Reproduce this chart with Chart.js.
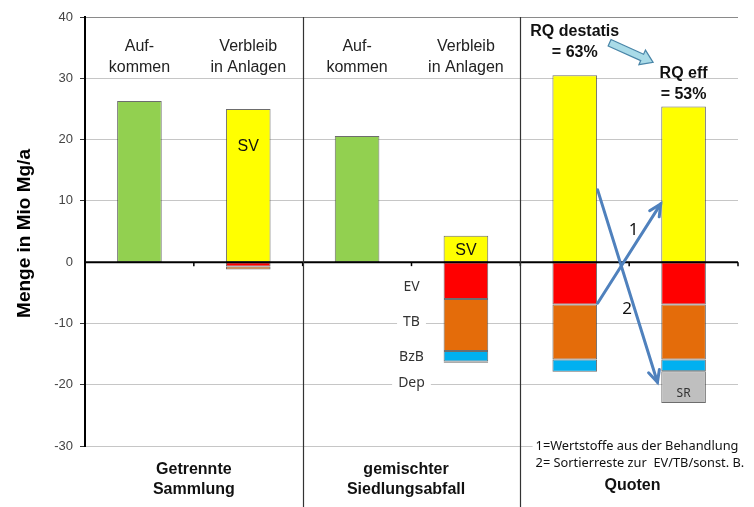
<!DOCTYPE html>
<html>
<head>
<meta charset="utf-8">
<script src="https://cdn.jsdelivr.net/npm/chart.js@4.4.1/dist/chart.umd.min.js"></script>
<style>
  html, body { margin: 0; padding: 0; background: #fff; }
  #wrap { width: 754px; height: 507px; }
</style>
</head>
<body>
<div id="wrap"><canvas id="chart"></canvas></div>
<script>
// six bar slots: two per group
const categories = ['GS Aufkommen', 'GS Verbleib', 'SA Aufkommen', 'SA Verbleib', 'RQ destatis', 'RQ eff'];

// Mio Mg/a
const aufkommen = [26.3, null, 20.6, null, null, null];
const svValues  = [null, 25.0, null, 4.3, 30.5, 25.4];
const evValues  = [null, -0.7, null, -6.0, -6.9, -6.9];
const tbValues  = [null, -0.5, null, -8.5, -9.0, -9.0];
const bzbValues = [null, null, null, -1.7, -2.0, -1.9];
const depValues = [null, null, null, -0.2, null, null];
const srValues  = [null, null, null, null, null, -5.2];

const yMin = -30, yMax = 40, yStep = 10;

const topLabels = [
  { idx: 0, lines: ['Auf-', 'kommen'] },
  { idx: 1, lines: ['Verbleib', 'in Anlagen'] },
  { idx: 2, lines: ['Auf-', 'kommen'] },
  { idx: 3, lines: ['Verbleib', 'in Anlagen'] }
];
const groupLabels = [
  { idx: 0.5, lines: ['Getrennte', 'Sammlung'] },
  { idx: 2.45, lines: ['gemischter', 'Siedlungsabfall'] },
  { idx: 4.53, lines: ['Quoten'] }
];
const segLabels = [
  { text: 'SV', idx: 1, v: 18.8, big: true },
  { text: 'SV', idx: 3, v: 1.9, big: true },
  { text: 'EV', idx: 2.5, v: -4.1 },
  { text: 'TB', idx: 2.5, v: -9.8 },
  { text: 'BzB', idx: 2.5, v: -15.4 },
  { text: 'Dep', idx: 2.5, v: -19.8 },
  { text: 'SR', idx: 5, v: -21.4, small: true }
];
const quoteLabels = [
  { lines: ['RQ destatis', '= 63%'], idx: 4.0, v: 37.6 },
  { lines: ['RQ eff', '= 53%'], idx: 5.0, v: 30.7 }
];
// flow arrows in (category index, value)
const flowArrows = [
  { from: [4.21, -6.7], to: [4.79, 9.5], label: '1', at: [4.54, 5.2] },
  { from: [4.21, 11.8], to: [4.76, -19.6], label: '2', at: [4.48, -7.6] }
];
const rqArrow = { from: [4.32, 35.8], to: [4.72, 32.6] };
const footnotes = ['1=Wertstoffe aus der Behandlung', '2= Sortierreste zur  EV/TB/sonst. B.'];

const ARIAL = '"Liberation Sans", Arial, sans-serif';
const CAL = '"Noto Sans", "Open Sans", sans-serif';

function px(chart, i) {
  const x = chart.scales.x;
  const p0 = x.getPixelForValue(0), p1 = x.getPixelForValue(1);
  return p0 + i * (p1 - p0);
}
function py(chart, v) { return chart.scales.y.getPixelForValue(v); }

function arrowHead(ctx, x1, y1, x2, y2, len) {
  const a = Math.atan2(y2 - y1, x2 - x1);
  ctx.beginPath();
  ctx.moveTo(x2 - len * Math.cos(a - 0.45), y2 - len * Math.sin(a - 0.45));
  ctx.lineTo(x2, y2);
  ctx.lineTo(x2 - len * Math.cos(a + 0.45), y2 - len * Math.sin(a + 0.45));
  ctx.stroke();
}

const decorPlugin = {
  id: 'decor',
  afterDatasetsDraw(chart) {
    const ctx = chart.ctx;
    const area = chart.chartArea;
    ctx.save();

    // zero line + small ticks at slot borders
    const y0 = py(chart, 0);
    ctx.strokeStyle = '#000';
    ctx.lineWidth = 2;
    ctx.beginPath(); ctx.moveTo(area.left, y0); ctx.lineTo(area.right, y0); ctx.stroke();
    ctx.lineWidth = 1.5;
    for (let i = 1; i <= categories.length; i++) {
      const x = px(chart, i - 0.5);
      ctx.beginPath(); ctx.moveTo(x, y0); ctx.lineTo(x, y0 + 4); ctx.stroke();
    }

    // group separators
    ctx.strokeStyle = '#333';
    ctx.lineWidth = 1.2;
    [1.5, 3.5].forEach(i => {
      const x = Math.round(px(chart, i)) + 0.5;
      ctx.beginPath(); ctx.moveTo(x, area.top); ctx.lineTo(x, chart.height); ctx.stroke();
    });

    ctx.textAlign = 'center';
    ctx.textBaseline = 'middle';

    // headings above bars
    ctx.fillStyle = '#222';
    ctx.font = '16px ' + ARIAL;
    topLabels.forEach(l => {
      const x = px(chart, l.idx);
      l.lines.forEach((t, k) => ctx.fillText(t, x, py(chart, 35.2) + k * 21));
    });

    // segment labels
    segLabels.forEach(l => {
      const x = px(chart, l.idx), y = py(chart, l.v);
      if (l.big) {
        ctx.font = '16px ' + ARIAL;
        ctx.fillStyle = '#111';
      } else {
        ctx.font = (l.small ? '12px ' : '14px ') + CAL;
        const w = ctx.measureText(l.text).width;
        if (!l.small) {
          ctx.fillStyle = '#fff';
          ctx.fillRect(x - w / 2 - 6, y - 8, w + 12, 16);
        }
        ctx.fillStyle = '#333';
      }
      ctx.fillText(l.text, x, y);
    });

    // RQ labels
    ctx.font = 'bold 16px ' + ARIAL;
    ctx.fillStyle = '#111';
    quoteLabels.forEach(l => {
      const x = px(chart, l.idx);
      l.lines.forEach((t, k) => ctx.fillText(t, x, py(chart, l.v) + k * 21));
    });

    // light blue block arrow
    {
      const ax = px(chart, rqArrow.from[0]), ay = py(chart, rqArrow.from[1]);
      const bx = px(chart, rqArrow.to[0]), by = py(chart, rqArrow.to[1]);
      const len = Math.hypot(bx - ax, by - ay);
      const ux = (bx - ax) / len, uy = (by - ay) / len;
      const nx = -uy, ny = ux;
      const hw = 3.5, hh = 8, hl = 12;
      const hx = bx - ux * hl, hy = by - uy * hl;
      ctx.beginPath();
      ctx.moveTo(ax + nx * hw, ay + ny * hw);
      ctx.lineTo(hx + nx * hw, hy + ny * hw);
      ctx.lineTo(hx + nx * hh, hy + ny * hh);
      ctx.lineTo(bx, by);
      ctx.lineTo(hx - nx * hh, hy - ny * hh);
      ctx.lineTo(hx - nx * hw, hy - ny * hw);
      ctx.lineTo(ax - nx * hw, ay - ny * hw);
      ctx.closePath();
      ctx.fillStyle = '#a9dbe8';
      ctx.fill();
      ctx.strokeStyle = '#4a86a8';
      ctx.lineWidth = 1.2;
      ctx.stroke();
    }

    // flow arrows 1 and 2
    ctx.strokeStyle = '#4f81bd';
    ctx.lineWidth = 3;
    ctx.lineCap = 'round';
    flowArrows.forEach(a => {
      const x1 = px(chart, a.from[0]), y1 = py(chart, a.from[1]);
      const x2 = px(chart, a.to[0]), y2 = py(chart, a.to[1]);
      ctx.beginPath(); ctx.moveTo(x1, y1); ctx.lineTo(x2, y2); ctx.stroke();
      arrowHead(ctx, x1, y1, x2, y2, 13);
    });
    ctx.font = '17px ' + CAL;
    ctx.fillStyle = '#111';
    flowArrows.forEach(a => ctx.fillText(a.label, px(chart, a.at[0]), py(chart, a.at[1])));

    // footnotes
    ctx.font = '12.8px ' + CAL;
    ctx.textAlign = 'left';
    const fx = px(chart, 3.64);
    footnotes.forEach((t, k) => {
      const y = area.bottom + k * 17;
      const w = ctx.measureText(t).width;
      ctx.fillStyle = '#fff';
      ctx.fillRect(fx - 3, y - 8, w + 6, 16);
      ctx.fillStyle = '#111';
      ctx.fillText(t, fx, y);
    });

    // group names below
    ctx.textAlign = 'center';
    ctx.font = 'bold 16px ' + ARIAL;
    ctx.fillStyle = '#111';
    groupLabels.forEach(g => {
      const x = px(chart, g.idx);
      const base = g.lines.length === 1 ? area.bottom + 40 : area.bottom + 24;
      g.lines.forEach((t, k) => ctx.fillText(t, x, base + k * 20));
    });

    // y axis title
    ctx.save();
    ctx.translate(25, (area.top + area.bottom) / 2 + 2);
    ctx.rotate(-Math.PI / 2);
    ctx.font = 'bold 19px ' + ARIAL;
    ctx.fillStyle = '#000';
    ctx.fillText('Menge in Mio Mg/a', 0, 0);
    ctx.restore();

    ctx.restore();
  }
};

const barBorder = 'rgba(60,60,60,0.75)';
function ds(label, data, color) {
  return {
    label, data,
    backgroundColor: color,
    borderColor: barBorder,
    borderWidth: 1,
    borderSkipped: false,
    stack: 's',
    barPercentage: 0.41,
    categoryPercentage: 1.0
  };
}

new Chart(document.getElementById('chart'), {
  type: 'bar',
  data: {
    labels: categories,
    datasets: [
      ds('Aufkommen', aufkommen, '#92d050'),
      ds('SV', svValues, '#ffff00'),
      ds('EV', evValues, '#ff0000'),
      ds('TB', tbValues, '#e46c0a'),
      ds('BzB', bzbValues, '#00b0f0'),
      ds('Dep', depValues, '#111111'),
      ds('SR', srValues, '#bfbfbf')
    ]
  },
  options: {
    responsive: true,
    maintainAspectRatio: false,
    animation: false,
    layout: { padding: { top: 17, right: 16, bottom: 61, left: 0 } },
    plugins: { legend: { display: false }, tooltip: { enabled: false } },
    scales: {
      x: { display: false, stacked: true },
      y: {
        stacked: true,
        min: yMin,
        max: yMax,
        afterFit: s => { s.width = 85; },
        ticks: {
          stepSize: yStep,
          color: '#444',
          padding: 7,
          font: { family: 'Liberation Sans', size: 13 }
        },
        grid: {
          color: c => c.tick.value === yMax ? '#8a8a8a' : '#c6c6c6',
          lineWidth: c => c.tick.value === 0 ? 0 : 1,
          tickColor: '#333',
          tickLength: 5
        },
        border: { color: '#000', width: 2 }
      }
    }
  },
  plugins: [decorPlugin]
});
</script>
</body>
</html>
